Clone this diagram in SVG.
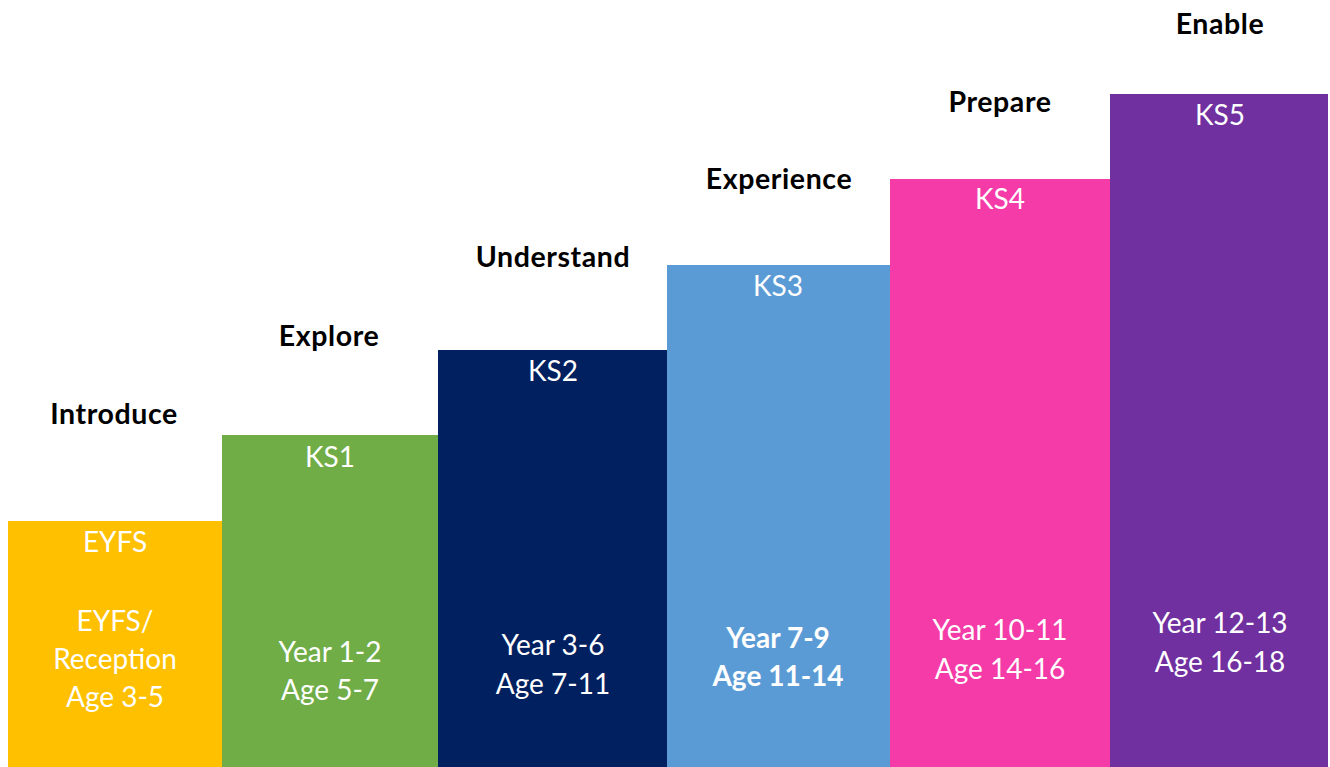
<svg xmlns="http://www.w3.org/2000/svg" width="1330" height="767" viewBox="0 0 1330 767">
<style>
.h{font-family:Lato,"Liberation Sans",sans-serif;font-weight:bold;font-size:28.5px;letter-spacing:0.6px;fill:#000;text-anchor:middle}
.t{font-family:Lato,"Liberation Sans",sans-serif;font-size:28px;fill:#fff;text-anchor:middle}
.b{font-weight:bold}
</style>
<rect width="1330" height="767" fill="#fff"/>
<g id="eyfs">
<rect x="8" y="521" width="214" height="246" fill="#FFC000"/>
<text class="h" x="114" y="424">Introduce</text>
<text class="t" x="115" y="552">EYFS</text>
<text class="t" x="115" y="631">EYFS/</text>
<text class="t" x="115" y="669">Reception</text>
<text class="t" x="115" y="707">Age 3-5</text>
</g>
<g id="ks1">
<rect x="222" y="435" width="216" height="332" fill="#70AD47"/>
<text class="h" x="329" y="346">Explore</text>
<text class="t" x="330" y="467">KS1</text>
<text class="t" x="330" y="662">Year 1-2</text>
<text class="t" x="330" y="700">Age 5-7</text>
</g>
<g id="ks2">
<rect x="438" y="350" width="229" height="417" fill="#002060"/>
<text class="h" x="553" y="267">Understand</text>
<text class="t" x="553" y="381">KS2</text>
<text class="t" x="553" y="655">Year 3-6</text>
<text class="t" x="553" y="694">Age 7-11</text>
</g>
<g id="ks3">
<rect x="667" y="265" width="223" height="502" fill="#5B9BD5"/>
<text class="h" x="779" y="189">Experience</text>
<text class="t" x="778" y="296">KS3</text>
<text class="t b" x="778" y="648">Year 7-9</text>
<text class="t b" x="778" y="686">Age 11-14</text>
</g>
<g id="ks4">
<rect x="890" y="179" width="221" height="588" fill="#F43BA8"/>
<text class="h" x="1000" y="112">Prepare</text>
<text class="t" x="1000" y="209">KS4</text>
<text class="t" x="1000" y="640">Year 10-11</text>
<text class="t" x="1000" y="679">Age 14-16</text>
</g>
<g id="ks5">
<rect x="1110" y="94" width="218" height="673" fill="#7030A0"/>
<text class="h" x="1220" y="34">Enable</text>
<text class="t" x="1220" y="125">KS5</text>
<text class="t" x="1220" y="633">Year 12-13</text>
<text class="t" x="1220" y="672">Age 16-18</text>
</g>
<g id="connectors"></g>
</svg>
